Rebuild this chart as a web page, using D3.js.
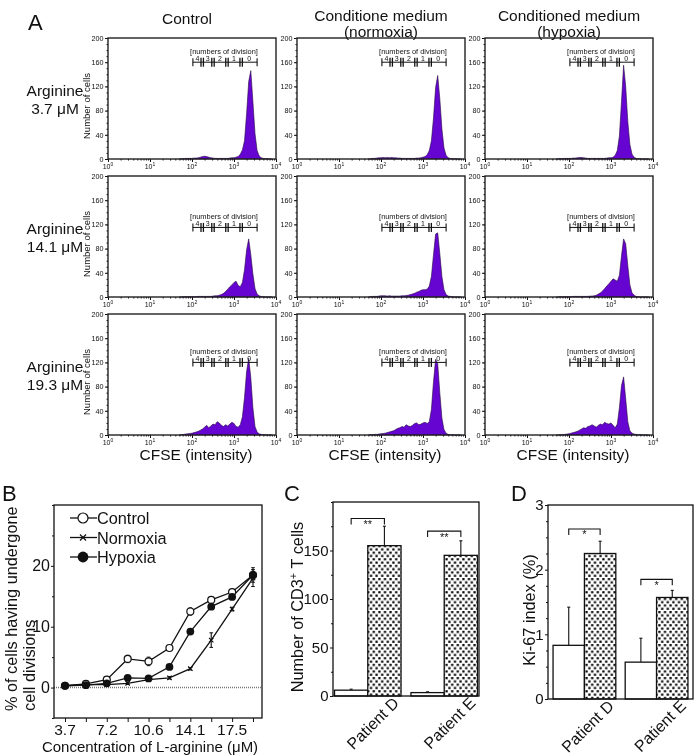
<!DOCTYPE html>
<html><head><meta charset="utf-8">
<script src="https://cdn.jsdelivr.net/npm/d3@7"></script>
<style>
body{margin:0;background:#fff}
svg{display:block;font-family:"Liberation Sans",Arial,Helvetica,sans-serif;will-change:transform}
</style>
</head><body>
<svg id="chart" width="697" height="756"></svg>
<script>
// ---------------- DATA ----------------
// Panel A
const conditionTitles = [["Control"], ["Conditione medium", "(normoxia)"], ["Conditioned medium", "(hypoxia)"]];
const arginineLabels = ["3.7 \u03bcM", "14.1 \u03bcM", "19.3 \u03bcM"];
const histYTicks = [0, 40, 80, 120, 160, 200];
const histXTicks = [1, 10, 100, 1000, 10000];
const divisionBounds = [105, 175, 316, 680, 1480, 3550];
const divisionLabels = ["4", "3", "2", "1", "0"];
const bracketLevels = [160, 115, 120];
const histLog = [1.70,1.75,1.80,1.85,1.90,1.95,2.00,2.05,2.10,2.15,
                 2.20,2.25,2.30,2.35,2.40,2.45,2.50,2.55,2.60,2.65,
                 2.70,2.75,2.80,2.85,2.90,2.95,3.00,3.05,3.10,3.15,
                 3.20,3.25,3.30,3.35,3.40,3.45,3.50,3.55,3.60,3.65,
                 3.70,3.75,3.80,3.85,3.90];
const histCtrl37  = [0,0.5,0.5,1,1,1,1,1.5,1.5,2, 3,4,4.5,4,3,2,1.5,1,1,1, 1,1,1,1,1.5,2,2,3,4,8, 15,30,75,128,146,95,42,14,5,2, 1,0.5,0.5,0,0];
const histNorm37  = [0,0.5,1,1,1.5,2,2,2.5,2,2.5, 2,2.5,2,2,1.5,1.5,1,1,1,1, 1,1,1,1.5,1.5,2,3,4,7,14, 30,68,118,138,100,50,18,6,2,1, 0.5,0.5,0,0,0];
const histHyp37   = [0,0.5,0.5,0.5,1,1,1,1,1.5,1.5, 2,2.5,2.5,2,1.5,1,1,1,1,1, 1,1,1,1,1.5,2,2,3,6,14, 38,95,155,120,62,24,8,3,1,0.5, 0.5,0,0,0,0];
const histCtrl141 = [0,0,0.5,0.5,0.5,0.5,0.5,0.5,0.5,1, 1,1,1,1,1,1,1.5,2,2,3, 4,6,9,13,17,20,24,26,19,17, 24,45,78,96,70,38,14,5,2,1, 0.5,0,0,0,0];
const histNorm141 = [0,0.5,1,1,1,1.5,2,2,2,1.5, 2,1.5,1.5,1.5,1.5,1.5,2,2,2.5,3, 4,5,6,8,9,11,12,12,13,18, 34,70,104,106,72,34,12,4,1.5,1, 0.5,0,0,0,0];
const histHyp141  = [0,0,0.5,0.5,0.5,0.5,0.5,0.5,1,1, 1,1,1,1,1,1,1.5,1.5,2,3, 5,7,10,14,18,22,26,30,28,26, 36,68,96,88,52,20,7,3,1,0.5, 0,0,0,0,0];
const histCtrl193 = [0,0.5,1,1.5,2,2.5,3,4,5,6, 8,10,13,16,12,15,18,17,22,20, 16,14,17,15,18,21,19,14,13,17, 30,62,105,127,95,45,14,5,2,1, 0.5,0.5,0,0,0];
const histNorm193 = [0,0.5,0.5,1,1,1.5,2,2.5,3,4, 5,6,7,9,11,12,14,13,17,15, 14,16,19,20,17,18,20,21,19,22, 42,88,125,118,70,28,9,3,1,0.5, 0.5,0,0,0,0];
const histHyp193  = [0,0,0.5,0.5,1,1.5,2,3,4,5, 6,8,10,12,11,14,15,17,15,13, 16,18,17,21,19,18,20,16,12,18, 45,82,96,60,22,7,3,1.5,1,0.5, 0.5,0,0,0,0];

// Panel B
const concentrations = ["3.7","5.4","7.2","8.9","10.6","12.4","14.1","15.8","17.5","19.3"];
const concLabelShown = ["3.7","7.2","10.6","14.1","17.5"];
const controlB  = [0.3, 0.6, 1.3, 4.7, 4.3, 6.5, 12.5, 14.4, 15.7, 18.5];
const normoxiaB = [0.3, 0.5, 0.5, 0.7, 1.3, 1.6, 3.1, 7.8, 12.9, 18.0];
const hypoxiaB  = [0.3, 0.4, 0.7, 1.6, 1.5, 3.4, 9.2, 13.3, 14.9, 18.5];
const controlErrB  = [0.2, 0.2, 0.3, 0.6, 0.7, 0.3, 0.6, 0.3, 0.3, 0.6];
const normoxiaErrB = [0.1, 0.1, 0.1, 0.2, 0.2, 0.2, 0.2, 1.2, 0.3, 1.4];
const hypoxiaErrB  = [0.1, 0.1, 0.2, 0.2, 0.2, 0.3, 0.4, 0.3, 0.4, 1.2];
const bYTicks = [0, 10, 20];
const bYMinor = [-5, 5, 15, 25, 30];

// Panel C
const patients = ["Patient D", "Patient E"];
const cd3Control = [6, 3.5];
const cd3Treated = [155, 145];
const cd3ControlErr = [1, 0.8];
const cd3TreatedErr = [20, 15];
const cSigLabels = ["**", "**"];
const cSigLevels = [183, 170];
const cYTicks = [0, 50, 100, 150];
const cYMinor = [25, 75, 125, 175, 200];

// Panel D
const ki67Control = [0.83, 0.57];
const ki67Treated = [2.25, 1.57];
const ki67ControlErr = [0.59, 0.37];
const ki67TreatedErr = [0.19, 0.11];
const dSigLabels = ["*", "*"];
const dSigLevels = [2.63, 1.85];
const dYTicks = [0, 1, 2, 3];
const dYMinor = [0.25, 0.5, 0.75, 1.25, 1.5, 1.75, 2.25, 2.5, 2.75];

// ---------------- DRAWING ----------------
const svg = d3.select("#chart");
const INK = "#111";

const defs = svg.append("defs");
const pat = defs.append("pattern").attr("id", "dots").attr("patternUnits", "userSpaceOnUse")
  .attr("width", 5.6).attr("height", 6.6);
pat.append("rect").attr("width", 5.6).attr("height", 6.6).attr("fill", "#fff");
pat.append("rect").attr("x", 0.3).attr("y", 0.5).attr("width", 2.2).attr("height", 2.2).attr("fill", "#000");
pat.append("rect").attr("x", 3.1).attr("y", 3.8).attr("width", 2.2).attr("height", 2.2).attr("fill", "#000");

function styleAxis(sel, fs) {
  sel.select(".domain").remove();
  sel.selectAll("line").attr("stroke", INK).attr("stroke-width", 1);
  sel.selectAll("text").attr("font-size", fs).attr("fill", INK).attr("font-family", null);
}

// ===== Panel A =====
const colLeft = [108, 297, 485], rowTop = [38, 176, 314], HW = 168, HH = 121;
const hx = d3.scaleLog().domain([1, 1e4]).range([0, HW]);
const hy = d3.scaleLinear().domain([0, 200]).range([HH, 0]);
const histograms = [
  [histCtrl37, histNorm37, histHyp37],
  [histCtrl141, histNorm141, histHyp141],
  [histCtrl193, histNorm193, histHyp193]
];
const histMinorX = [];
[1, 10, 100, 1000].forEach(d => [2,3,4,5,6,7,8,9].forEach(k => histMinorX.push(d * k)));
const histMinorY = d3.range(0, 201, 10);

svg.append("text").attr("x", 28).attr("y", 30).attr("font-size", 22).attr("fill", INK).text("A");

conditionTitles.forEach((lines, ci) => {
  const cx = colLeft[ci] + HW / 2 - (ci === 0 ? 5 : 0);
  const base = lines.length === 1 ? 24 : 21;
  lines.forEach((t, li) => {
    svg.append("text").attr("x", cx).attr("y", base + li * 16).attr("text-anchor", "middle")
      .attr("font-size", 15.5).attr("fill", INK).text(t);
  });
  svg.append("text").attr("x", colLeft[ci] + HW / 2 + 4).attr("y", 460).attr("text-anchor", "middle")
    .attr("font-size", 15.5).attr("fill", INK).text("CFSE (intensity)");
});

arginineLabels.forEach((lab, ri) => {
  svg.append("text").attr("x", 55).attr("y", rowTop[ri] + 58).attr("text-anchor", "middle")
    .attr("font-size", 15.5).attr("fill", INK).text("Arginine");
  svg.append("text").attr("x", 55).attr("y", rowTop[ri] + 76).attr("text-anchor", "middle")
    .attr("font-size", 15.5).attr("fill", INK).text(lab);
  svg.append("text").attr("transform", `translate(90,${rowTop[ri] + 68}) rotate(-90)`)
    .attr("text-anchor", "middle").attr("font-size", 9.5).attr("fill", INK).text("Number of cells");
});

const area = d3.area().x(d => hx(Math.pow(10, d[0]))).y0(HH).y1(d => hy(d[1]));

histograms.forEach((row, ri) => row.forEach((vals, ci) => {
  const g = svg.append("g").attr("transform", `translate(${colLeft[ci]},${rowTop[ri]})`);
  const pts = histLog.map((l, i) => [l, vals[i]]);
  g.append("path").datum(pts).attr("d", area).attr("fill", "#6605d2")
    .attr("stroke", "#250840").attr("stroke-width", 0.6).attr("stroke-linejoin", "round");

  const ya = g.append("g").call(d3.axisLeft(hy).tickValues(histYTicks).tickSize(3).tickPadding(1.5));
  styleAxis(ya, 7.2);
  const ym = g.append("g").call(d3.axisLeft(hy).tickValues(histMinorY).tickSize(1.5).tickFormat(""));
  styleAxis(ym, 7.2);
  const xa = g.append("g").attr("transform", `translate(0,${HH})`)
    .call(d3.axisBottom(hx).tickValues(histXTicks).tickSize(3).tickFormat(""));
  styleAxis(xa, 7.2);
  const xm = g.append("g").attr("transform", `translate(0,${HH})`)
    .call(d3.axisBottom(hx).tickValues(histMinorX).tickSize(1.5).tickFormat(""));
  styleAxis(xm, 7.2);
  histXTicks.forEach(v => {
    const t = g.append("text").attr("x", hx(v)).attr("y", HH + 9.5).attr("text-anchor", "middle")
      .attr("font-size", 7).attr("fill", INK);
    t.append("tspan").text("10");
    t.append("tspan").attr("font-size", 5).attr("dy", -3).text(String(Math.round(Math.log10(v))));
  });
  g.append("rect").attr("width", HW).attr("height", HH).attr("fill", "none")
    .attr("stroke", "#222").attr("stroke-width", 1.4);

  // division bracket
  const by0 = hy(bracketLevels[ri]);
  const bx = divisionBounds.map(v => hx(v));
  g.append("line").attr("x1", bx[0]).attr("x2", bx[5]).attr("y1", by0).attr("y2", by0)
    .attr("stroke", INK).attr("stroke-width", 1);
  [bx[0], bx[5]].forEach(x => g.append("line").attr("x1", x).attr("x2", x)
    .attr("y1", by0 - 4).attr("y2", by0 + 4).attr("stroke", INK).attr("stroke-width", 1.1));
  bx.slice(1, 5).forEach(x => [-1.2, 1.2].forEach(o => g.append("line")
    .attr("x1", x + o).attr("x2", x + o).attr("y1", by0 - 4.5).attr("y2", by0 + 4.5)
    .attr("stroke", INK).attr("stroke-width", 1.3)));
  divisionLabels.forEach((lab, k) => {
    g.append("text").attr("x", (bx[k] + bx[k + 1]) / 2).attr("y", by0 - 1)
      .attr("text-anchor", "middle").attr("font-size", 7).attr("fill", INK).text(lab);
  });
  g.append("text").attr("x", (bx[0] + bx[5]) / 2 - 1).attr("y", by0 - 8)
    .attr("text-anchor", "middle").attr("font-size", 7.4).attr("fill", INK).text("[numbers of division]");
}));

// ===== Panel B =====
const bL = 54, bR = 262, bT = 505, bB = 718;
const bxS = d3.scalePoint().domain(concentrations).range([65, 253]);
const byS = d3.scaleLinear().domain([-5, 30]).range([bB, bT]);
svg.append("text").attr("x", 2).attr("y", 501).attr("font-size", 22).attr("fill", INK).text("B");

svg.append("line").attr("x1", bL).attr("x2", bR).attr("y1", byS(0)).attr("y2", byS(0))
  .attr("stroke", "#777").attr("stroke-width", 1.6).attr("stroke-dasharray", "1,1");

const bya = svg.append("g").attr("transform", `translate(${bL},0)`)
  .call(d3.axisLeft(byS).tickValues(bYTicks).tickSize(3).tickPadding(1));
styleAxis(bya, 16);
const bym = svg.append("g").attr("transform", `translate(${bL},0)`)
  .call(d3.axisLeft(byS).tickValues(bYMinor).tickSize(2).tickFormat(""));
styleAxis(bym, 16);
const bxa = svg.append("g").attr("transform", `translate(0,${bB})`)
  .call(d3.axisBottom(bxS).tickSize(4).tickFormat(""));
styleAxis(bxa, 16);
concLabelShown.forEach(c => svg.append("text").attr("x", bxS(c)).attr("y", 735)
  .attr("text-anchor", "middle").attr("font-size", 15.5).attr("fill", INK).text(c));
svg.append("text").attr("x", 150).attr("y", 752).attr("text-anchor", "middle")
  .attr("font-size", 15).attr("fill", INK).text("Concentration of L-arginine (\u03bcM)");
svg.append("text").attr("transform", "translate(17,711) rotate(-90)").attr("font-size", 16.3)
  .attr("fill", INK).text("% of cells having undergone");
svg.append("text").attr("transform", "translate(35,711) rotate(-90)").attr("font-size", 16.3)
  .attr("fill", INK).text("cell divisions");

const lineGen = d3.line().x((d, i) => bxS(concentrations[i])).y(d => byS(d));
const seriesB = [
  {vals: controlB, err: controlErrB, kind: "open"},
  {vals: normoxiaB, err: normoxiaErrB, kind: "cross"},
  {vals: hypoxiaB, err: hypoxiaErrB, kind: "filled"}
];
seriesB.forEach(s => {
  svg.append("path").datum(s.vals).attr("d", lineGen).attr("fill", "none")
    .attr("stroke", INK).attr("stroke-width", 1.3);
  s.vals.forEach((v, i) => {
    const x = bxS(concentrations[i]);
    const e = s.err[i];
    svg.append("line").attr("x1", x).attr("x2", x).attr("y1", byS(v - e)).attr("y2", byS(v + e))
      .attr("stroke", INK).attr("stroke-width", 1.1);
    [v - e, v + e].forEach(w => svg.append("line").attr("x1", x - 1.8).attr("x2", x + 1.8)
      .attr("y1", byS(w)).attr("y2", byS(w)).attr("stroke", INK).attr("stroke-width", 1));
  });
});
function marker(kind, x, y, big) {
  const r = big ? 5 : 3.5;
  if (kind === "open") {
    svg.append("circle").attr("cx", x).attr("cy", y).attr("r", r).attr("fill", "#fff")
      .attr("stroke", INK).attr("stroke-width", 1.2);
  } else if (kind === "filled") {
    svg.append("circle").attr("cx", x).attr("cy", y).attr("r", r + 0.4).attr("fill", INK);
  } else {
    const s = big ? 3 : 2.2;
    svg.append("path").attr("d", `M${x - s},${y - s}L${x + s},${y + s}M${x - s},${y + s}L${x + s},${y - s}`)
      .attr("stroke", INK).attr("stroke-width", 1.2);
  }
}
seriesB.forEach(s => s.vals.forEach((v, i) => marker(s.kind, bxS(concentrations[i]), byS(v), false)));

const legendB = [["Control", "open"], ["Normoxia", "cross"], ["Hypoxia", "filled"]];
legendB.forEach((d, i) => {
  const y = 518 + i * 19.5;
  svg.append("line").attr("x1", 70).attr("x2", 97).attr("y1", y).attr("y2", y)
    .attr("stroke", INK).attr("stroke-width", 1.3);
  marker(d[1], 83, y, true);
  svg.append("text").attr("x", 97).attr("y", y + 6).attr("font-size", 16.3).attr("fill", INK).text(d[0]);
});
svg.append("rect").attr("x", bL).attr("y", bT).attr("width", bR - bL).attr("height", bB - bT)
  .attr("fill", "none").attr("stroke", INK).attr("stroke-width", 1.3);

// ===== Bar panels (C, D) =====
function barPanel(opt) {
  const {L, R, T, B, domain, ctrl, trt, ctrlErr, trtErr, sigLab, sigLev, ticks, minor, pIn, pOut, letter, lx, ylab, ylabX} = opt;
  const x0 = d3.scaleBand().domain(patients).range([L, R]).paddingInner(pIn).paddingOuter(pOut);
  const x1 = d3.scaleBand().domain(["ctrl", "trt"]).range([0, x0.bandwidth()]);
  const y = d3.scaleLinear().domain(domain).range([B, T]);
  svg.append("text").attr("x", lx).attr("y", 501).attr("font-size", 22).attr("fill", INK).text(letter);

  const ya = svg.append("g").attr("transform", `translate(${L},0)`)
    .call(d3.axisLeft(y).tickValues(ticks).tickSize(3).tickPadding(1.5).tickFormat(d3.format("d")));
  styleAxis(ya, 15);
  const ym = svg.append("g").attr("transform", `translate(${L},0)`)
    .call(d3.axisLeft(y).tickValues(minor).tickSize(2).tickFormat(""));
  styleAxis(ym, 15);

  patients.forEach((p, i) => {
    const gx = x0(p);
    [["ctrl", ctrl[i], ctrlErr[i], "#fff"], ["trt", trt[i], trtErr[i], "url(#dots)"]].forEach(b => {
      const bx = gx + x1(b[0]), bw = x1.bandwidth(), cx = bx + bw / 2;
      svg.append("line").attr("x1", cx).attr("x2", cx).attr("y1", y(b[1])).attr("y2", y(b[1] + b[2]))
        .attr("stroke", INK).attr("stroke-width", 1.1);
      svg.append("line").attr("x1", cx - 1.5).attr("x2", cx + 1.5).attr("y1", y(b[1] + b[2])).attr("y2", y(b[1] + b[2]))
        .attr("stroke", INK).attr("stroke-width", 1.1);
      svg.append("rect").attr("x", bx).attr("y", y(b[1])).attr("width", bw).attr("height", B - y(b[1]))
        .attr("fill", b[3]).attr("stroke", INK).attr("stroke-width", 1.3);
    });
    const c1 = gx + x1("ctrl") + x1.bandwidth() / 2, c2 = gx + x1("trt") + x1.bandwidth() / 2;
    const sy = y(sigLev[i]);
    svg.append("path").attr("d", `M${c1},${sy + 6}V${sy}H${c2}V${sy + 6}`).attr("fill", "none")
      .attr("stroke", INK).attr("stroke-width", 1.1);
    svg.append("text").attr("x", (c1 + c2) / 2).attr("y", sy + 9.5).attr("text-anchor", "middle")
      .attr("font-size", 11).attr("fill", INK).text(sigLab[i]);
    svg.append("text").attr("transform", `translate(${gx + x0.bandwidth() - 1},${B + 8}) rotate(-45)`)
      .attr("text-anchor", "end").attr("font-size", 16).attr("fill", INK).text(p);
  });
  svg.append("rect").attr("x", L).attr("y", T).attr("width", R - L).attr("height", B - T)
    .attr("fill", "none").attr("stroke", INK).attr("stroke-width", 1.3);
  const yl = svg.append("text").attr("transform", `translate(${ylabX},${(T + B) / 2 + 8}) rotate(-90)`)
    .attr("text-anchor", "middle").attr("font-size", 16.3).attr("fill", INK);
  ylab(yl);
}

barPanel({L: 333, R: 479, T: 502, B: 696, domain: [0, 200], ctrl: cd3Control, trt: cd3Treated,
  ctrlErr: cd3ControlErr, trtErr: cd3TreatedErr, sigLab: cSigLabels, sigLev: cSigLevels,
  ticks: cYTicks, minor: cYMinor, pIn: 0.13, pOut: 0.02, letter: "C", lx: 284, ylabX: 303,
  ylab: t => { t.append("tspan").text("Number of CD3");
               t.append("tspan").attr("font-size", 11).attr("dy", -6).text("+");
               t.append("tspan").attr("dy", 6).text(" T cells"); }});

barPanel({L: 548, R: 693, T: 505, B: 699, domain: [0, 3], ctrl: ki67Control, trt: ki67Treated,
  ctrlErr: ki67ControlErr, trtErr: ki67TreatedErr, sigLab: dSigLabels, sigLev: dSigLevels,
  ticks: dYTicks, minor: dYMinor, pIn: 0.13, pOut: 0.07, letter: "D", lx: 511, ylabX: 535,
  ylab: t => t.text("Ki-67 index (%)")});
</script>
</body></html>
